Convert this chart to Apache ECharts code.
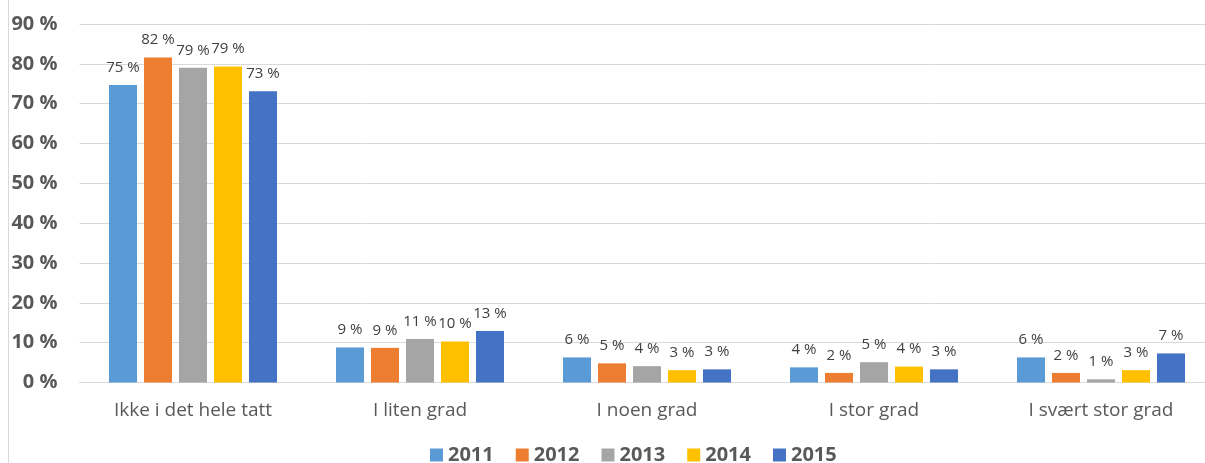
<!DOCTYPE html>
<html><head><meta charset="utf-8">
<script src="https://cdn.jsdelivr.net/npm/echarts@6/dist/echarts.min.js"></script>
<style>html,body{margin:0;padding:0;background:#fff;overflow:hidden}#c{width:1220px;height:463px}</style>
</head><body><div id="c"></div>
<script>
const categories = ['Ikke i det hele tatt', 'I liten grad', 'I noen grad', 'I stor grad', 'I svært stor grad'];
const years = ['2011', '2012', '2013', '2014', '2015'];
const v2011 = [74.7, 8.8, 6.3, 3.8, 6.3];
const v2012 = [81.6, 8.7, 4.8, 2.4, 2.4];
const v2013 = [79.0, 10.9, 4.1, 5.1, 0.8];
const v2014 = [79.3, 10.3, 3.1, 4.0, 3.1];
const v2015 = [73.1, 12.9, 3.3, 3.3, 7.3];
const yTicks = [0, 10, 20, 30, 40, 50, 60, 70, 80, 90];
const colors = ['#5b9bd5', '#ed7d31', '#a5a5a5', '#ffc000', '#4472c4'];
const seriesValues = [v2011, v2012, v2013, v2014, v2015];

const chart = echarts.init(document.getElementById('c'));
chart.setOption({
  animation: false,
  color: colors,
  graphic: [{type: 'line', shape: {x1: 8.5, y1: 0, x2: 8.5, y2: 463}, style: {stroke: '#d9d9d9', lineWidth: 1}}],
  grid: {left: 79.5, width: 1135, top: 24, height: 358.5, containLabel: false},
  legend: {
    left: 425, top: 440, itemWidth: 13, itemHeight: 13, itemGap: 22,
    icon: 'rect',
    textStyle: {fontFamily: 'Open Sans', fontWeight: 'bold', fontSize: 20, color: '#595959'},
    data: years
  },
  xAxis: {
    type: 'category', data: categories,
    axisLine: {show: true, lineStyle: {color: '#d9d9d9', width: 1}},
    axisTick: {show: false},
    axisLabel: {fontFamily: 'Open Sans', fontSize: 19, color: '#595959', margin: 19}
  },
  yAxis: {
    type: 'value', min: yTicks[0], max: yTicks[yTicks.length - 1], interval: 10,
    axisLine: {show: false}, axisTick: {show: false},
    splitLine: {lineStyle: {color: '#d9d9d9', width: 1}},
    axisLabel: {fontFamily: 'Open Sans', fontWeight: 'bold', fontSize: 20, color: '#595959', margin: 22,
      formatter: v => v + ' %'}
  },
  series: years.map((y, i) => ({
    name: y, type: 'bar', data: seriesValues[i],
    barWidth: 28, barGap: '25%',
    label: {show: true, position: 'top', distance: 10, fontFamily: 'Open Sans', fontSize: 15, color: '#404040',
      formatter: p => Math.round(p.value) + ' %'}
  }))
});
</script></body></html>
